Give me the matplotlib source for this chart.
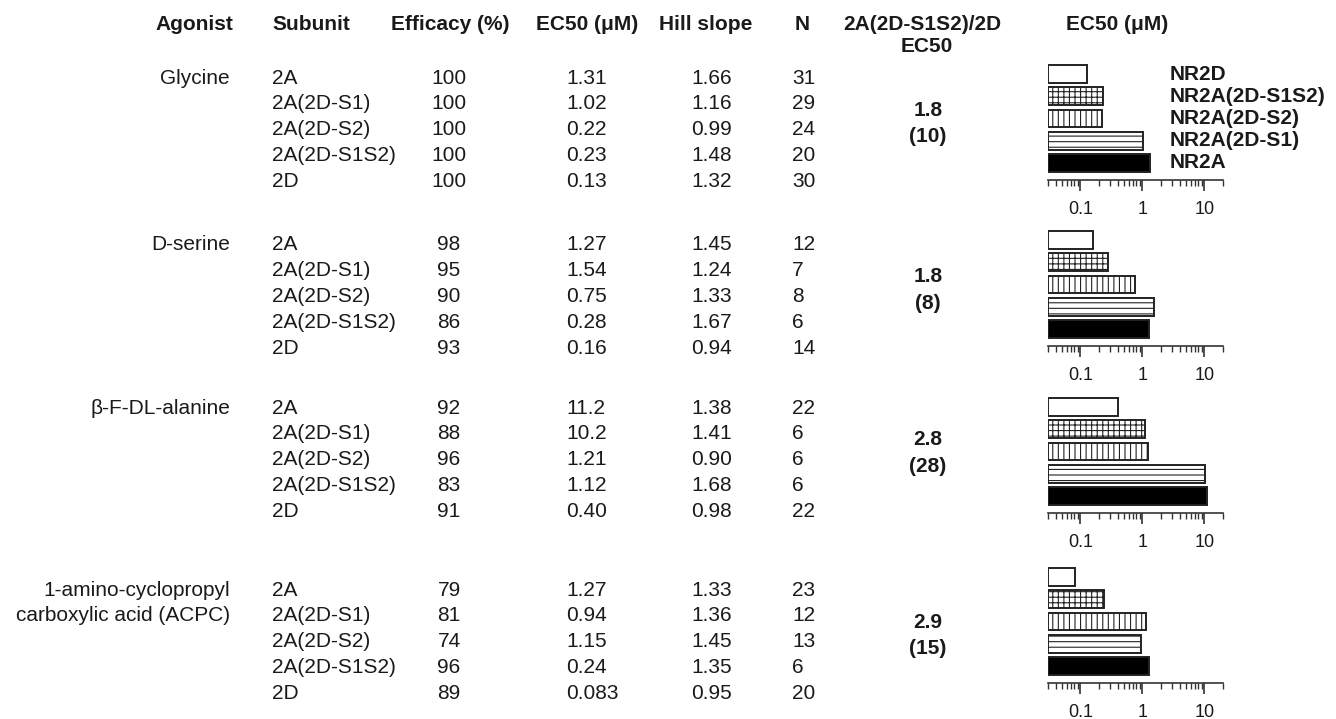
import matplotlib
matplotlib.use("Agg")
import matplotlib.pyplot as plt
import matplotlib.transforms as mtransforms
from matplotlib.ticker import LogLocator, NullFormatter

plt.rcParams['font.family'] = ['Liberation Sans', 'DejaVu Sans']
plt.rcParams['hatch.linewidth'] = 0.8

# table values, one list per agonist
agonists = ["Glycine", "D-serine", "β-F-DL-alanine",
            "1-amino-cyclopropyl\ncarboxylic acid (ACPC)"]
subunits = ["2A", "2A(2D-S1)", "2A(2D-S2)", "2A(2D-S1S2)", "2D"]
efficacy = [[100, 100, 100, 100, 100],
            [98, 95, 90, 86, 93],
            [92, 88, 96, 83, 91],
            [79, 81, 74, 96, 89]]
ec50_txt = [["1.31", "1.02", "0.22", "0.23", "0.13"],
            ["1.27", "1.54", "0.75", "0.28", "0.16"],
            ["11.2", "10.2", "1.21", "1.12", "0.40"],
            ["1.27", "0.94", "1.15", "0.24", "0.083"]]
hill = [["1.66", "1.16", "0.99", "1.48", "1.32"],
        ["1.45", "1.24", "1.33", "1.67", "0.94"],
        ["1.38", "1.41", "0.90", "1.68", "0.98"],
        ["1.33", "1.36", "1.45", "1.35", "0.95"]]
n_cells = [[31, 29, 24, 20, 30],
           [12, 7, 8, 6, 14],
           [22, 6, 6, 6, 22],
           [23, 12, 13, 6, 20]]
ratio = ["1.8", "1.8", "2.8", "2.9"]
ratio_n = ["(10)", "(8)", "(28)", "(15)"]

ec50 = [[float(v) for v in row] for row in ec50_txt]

W, H = 1336, 719
fig = plt.figure(figsize=(W / 100, H / 100), dpi=100)
ink = '#1a1a1a'
fs = 15


def put(x, y, s, **kw):
    kw.setdefault('color', ink)
    kw.setdefault('fontsize', fs)
    kw.setdefault('va', 'center')
    fig.text(x / W, 1 - y / H, s, **kw)


# header row
hy = 25
put(233, hy, "Agonist", ha='right', weight='bold')
put(272, hy, "Subunit", ha='left', weight='bold')
put(450, hy, "Efficacy (%)", ha='center', weight='bold')
put(587, hy, "EC50 (μM)", ha='center', weight='bold')
put(706, hy, "Hill slope", ha='center', weight='bold')
put(802, hy, "N", ha='center', weight='bold')
put(922, hy, "2A(2D-S1S2)/2D", ha='center', weight='bold')
put(927, hy + 22, "EC50", ha='center', weight='bold')
put(1117, hy, "EC50 (μM)", ha='center', weight='bold')

group_y = [78, 245, 408, 590]
step = 25.8
for g, y0 in enumerate(group_y):
    name_lines = agonists[g].split("\n")
    for k, line in enumerate(name_lines):
        put(230, y0 + k * step, line, ha='right')
    for r, sub in enumerate(subunits):
        y = y0 + r * step
        put(272, y, sub, ha='left')
        put(449, y, str(efficacy[g][r]), ha='center')
        put(566, y, ec50_txt[g][r], ha='left')
        put(691, y, hill[g][r], ha='left')
        put(792, y, str(n_cells[g][r]), ha='left')
    put(928, y0 + 32, ratio[g], ha='center', weight='bold')
    put(928, y0 + 59, ratio_n[g], ha='center', weight='bold')

# EC50 bar panels, NR2D on top down to NR2A
order = [4, 3, 2, 1, 0]
faces = ['white', 'white', 'white', 'white', 'black']
hatches = ['', '+++', '|||', '---', '']
axis_y = [180, 346, 513, 683]
ax_left, ax_right = 1048, 1223
ax_h = 116
xmin, xmax = 0.03, 20

for g, yb in enumerate(axis_y):
    ax = fig.add_axes([ax_left / W, 1 - yb / H, (ax_right - ax_left) / W, ax_h / H])
    ax.set_xscale('log')
    for pos, idx in enumerate(order):
        ax.barh(pos, ec50[g][idx] - xmin, left=xmin, height=0.8,
                color=faces[pos], edgecolor='#222222', linewidth=1.4,
                hatch=hatches[pos])
    ax.set_xlim(xmin, xmax)
    ax.set_ylim(4.77, -0.45)
    for side in ['left', 'right', 'top']:
        ax.spines[side].set_visible(False)
    ax.spines['bottom'].set_linewidth(1.2)
    ax.spines['bottom'].set_color('#333333')
    ax.set_yticks([])
    ax.set_xticks([0.1, 1, 10], ['0.1', '1', '10'])
    ax.xaxis.set_minor_locator(LogLocator(base=10, subs=range(2, 10)))
    ax.xaxis.set_minor_formatter(NullFormatter())
    ax.tick_params(axis='x', which='major', length=8, width=1.2,
                   color='#333333', labelsize=13, labelcolor=ink, pad=7)
    ax.tick_params(axis='x', which='minor', length=4, width=1.0, color='#333333')
    ax.patch.set_alpha(0)

    if g == 0:
        # subunit key next to the first panel
        trans = mtransforms.blended_transform_factory(fig.transFigure, ax.transData)
        for pos, idx in enumerate(order):
            ax.text(1170 / W, pos, "NR" + subunits[idx], transform=trans,
                    ha='left', va='center', fontsize=15, weight='bold', color=ink)

fig.savefig("out.png", dpi=100)
